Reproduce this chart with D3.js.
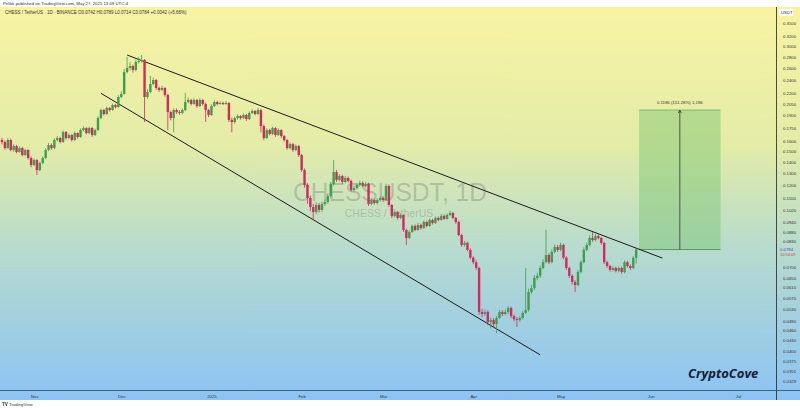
<!DOCTYPE html>
<html><head><meta charset="utf-8">
<script src="https://cdn.jsdelivr.net/npm/d3@7"></script>
<style>body{margin:0;background:#fff;} svg{display:block;font-family:"Liberation Sans",Arial,sans-serif;}</style>
</head><body><svg id="c" width="800" height="410"></svg>
<script>
const startDate = "2024-10-21";
const closes = [
.1595,.1532,.1616,.1513,.1553,.1493,.1532,.1463,.1513,.1435,.1370,
.1416,.1325,.1388,.1435,.1513,.1563,.1532,.1616,.1637,.1595,.1703,.1637,.1670,.1616,.1692,.1648,.1726,.1749,.1692,.1749,.1670,.1726,.1868,.1970,.1919,.1996,.1970,.2036,.2009,.2147,
.2190,.2532,.2600,.2635,.2566,.2705,.2723,.2741,.2147,.2219,.2339,.2402,.2279,.2249,.2279,.2175,.1944,.1868,.1970,.1944,.1932,.1970,.2077,.2105,.2050,.2105,.2022,.2105,.2050,.1970,.1906,
.2022,.2077,.2050,.2063,.2050,.2063,.1844,.1820,.1868,.1893,.1868,.1906,.1856,.1932,.1957,.1919,.1970,.1772,.1637,.1726,.1681,.1749,.1670,.1726,.1659,.1616,.1532,.1573,.1513,.1553,.1463,
.1325,.1201,.1102,.1038,.1004,.1052,.1018,.1059,.1073,.1117,.1209,.1308,.1241,.1274,.1225,.1258,.1233,.1162,.1177,.1201,.1217,.1193,.1209,.1059,.1087,.1066,.1087,.1102,
.1087,.1193,.1052,.0979,.1004,.0966,.0985,.0892,.0846,.0880,.0916,.0892,.0922,.0904,.0940,.0916,.0953,.0934,.0966,.0953,.0979,.0960,.0985,.0998,.0966,.0940,.0863,.0808,.0819,.0782,.0743,
.0721,.0694,.0519,.0512,.0519,.0486,.0492,.0479,.0499,.0519,.0512,.0519,.0533,.0505,.0495,.0492,.0499,.0516,.0526,.0592,.0608,.0650,.0659,.0694,.0721,.0756,.0721,.0772,.0797,.0782,
.0808,.0743,.0694,.0659,.0633,.0620,.0676,.0721,.0782,.0808,.0846,.0835,.0857,.0846,.0819,.0721,.0703,.0685,.0694,.0681,.0694,.0676,.0721,.0703,.0694,.0742,.0784];
const opens = [
.1616,.1595,.1532,.1616,.1513,.1553,.1493,.1532,.1463,.1513,.1435,
.1370,.1416,.1325,.1388,.1435,.1513,.1563,.1532,.1616,.1637,.1595,.1703,.1637,.1670,.1616,.1692,.1648,.1726,.1749,.1692,.1749,.1670,.1726,.1868,.1970,.1919,.1996,.1970,.2036,.2009,
.2147,.2190,.2532,.2600,.2635,.2566,.2705,.2723,.2741,.2147,.2219,.2339,.2402,.2279,.2249,.2279,.2175,.1944,.1868,.1970,.1944,.1932,.1970,.2077,.2105,.2050,.2105,.2022,.2105,.2050,.1970,
.1906,.2022,.2077,.2050,.2063,.2050,.2063,.1844,.1820,.1868,.1893,.1868,.1906,.1856,.1932,.1957,.1919,.1970,.1772,.1637,.1726,.1681,.1749,.1670,.1726,.1659,.1616,.1532,.1573,.1513,.1553,
.1463,.1325,.1201,.1102,.1038,.1004,.1052,.1018,.1059,.1073,.1117,.1209,.1308,.1241,.1274,.1225,.1258,.1233,.1162,.1177,.1201,.1217,.1193,.1209,.1059,.1087,.1066,.1087,
.1102,.1087,.1193,.1052,.0979,.1004,.0966,.0985,.0892,.0846,.0880,.0916,.0892,.0922,.0904,.0940,.0916,.0953,.0934,.0966,.0953,.0979,.0960,.0985,.0998,.0966,.0940,.0863,.0808,.0819,.0782,
.0743,.0721,.0694,.0519,.0512,.0519,.0486,.0492,.0479,.0499,.0519,.0512,.0519,.0533,.0505,.0495,.0492,.0499,.0516,.0526,.0592,.0608,.0650,.0659,.0694,.0721,.0756,.0721,.0772,.0797,
.0782,.0808,.0743,.0694,.0659,.0633,.0620,.0676,.0721,.0782,.0808,.0846,.0835,.0857,.0846,.0819,.0721,.0703,.0685,.0694,.0681,.0694,.0676,.0721,.0703,.0694,.0742];
const highs = [
.1640,.1610,.1635,.1630,.1570,.1565,.1550,.1545,.1525,.1520,.1450,
.1430,.1425,.1400,.1450,.1530,.1585,.1580,.1635,.1660,.1650,.1720,.1715,.1690,.1680,.1710,.1700,.1745,.1770,.1760,.1765,.1760,.1740,.1890,.1990,.1985,.2015,.2010,.2055,.2050,.2170,
.2230,.2580,.2800,.2700,.2660,.2750,.2800,.2833,.2760,.2260,.2470,.2440,.2420,.2300,.2310,.2290,.2190,.1960,.1990,.1990,.1970,.1990,.2205,.2140,.2120,.2130,.2120,.2130,.2120,.2070,.1985,
.2045,.2100,.2095,.2085,.2080,.2090,.2075,.1870,.1885,.1915,.1905,.1925,.1920,.1950,.1980,.1970,.1995,.1985,.1790,.1745,.1740,.1765,.1760,.1745,.1735,.1670,.1625,.1590,.1585,.1570,.1565,
.1475,.1340,.1215,.1120,.1060,.1070,.1065,.1075,.1090,.1135,.1225,.1416,.1325,.1290,.1285,.1275,.1270,.1245,.1195,.1215,.1235,.1230,.1225,.1220,.1100,.1095,.1100,.1115,
.1115,.1210,.1205,.1060,.1015,.1010,.0995,.0990,.0900,.0890,.0925,.0925,.0935,.0930,.0950,.0948,.0962,.0960,.0975,.0975,.0990,.0988,.0995,.1012,.1005,.0972,.0948,.0870,.0830,.0825,.0790,
.0750,.0730,.0700,.0530,.0528,.0525,.0500,.0498,.0505,.0526,.0525,.0527,.0540,.0538,.0510,.0502,.0505,.0522,.0694,.0605,.0620,.0662,.0672,.0705,.0735,.0892,.0765,.0785,.0810,.0808,
.0820,.0815,.0750,.0700,.0665,.0640,.0685,.0730,.0795,.0822,.0860,.0880,.0868,.0865,.0852,.0825,.0728,.0710,.0702,.0700,.0702,.0700,.0730,.0728,.0710,.0750,.0789];
const lows = [
.1570,.1515,.1525,.1500,.1495,.1480,.1485,.1450,.1455,.1420,.1350,
.1360,.1282,.1315,.1375,.1425,.1500,.1515,.1520,.1600,.1580,.1585,.1620,.1625,.1600,.1605,.1630,.1640,.1710,.1675,.1680,.1650,.1660,.1715,.1855,.1900,.1905,.1950,.1960,.1990,.2000,
.2130,.2180,.2510,.2560,.2520,.2540,.2680,.2690,.1820,.2120,.2200,.2320,.2250,.2220,.2230,.2150,.1726,.1840,.1700,.1920,.1910,.1915,.1955,.2060,.2030,.2040,.2000,.2010,.2030,.1820,.1880,
.1895,.2010,.2030,.2040,.2035,.2040,.1820,.1700,.1800,.1850,.1850,.1855,.1835,.1845,.1920,.1900,.1905,.1700,.1615,.1625,.1665,.1670,.1650,.1660,.1640,.1600,.1515,.1520,.1495,.1500,.1445,
.1310,.1180,.1060,.1010,.0953,.0990,.1000,.1005,.1045,.1060,.1105,.1195,.1225,.1230,.1210,.1215,.1220,.1150,.1150,.1165,.1190,.1180,.1185,.1045,.1050,.1055,.1055,.1075,
.1075,.1080,.1040,.0965,.0970,.0955,.0958,.0880,.0808,.0840,.0875,.0885,.0888,.0895,.0898,.0908,.0910,.0925,.0928,.0945,.0948,.0952,.0955,.0978,.0958,.0930,.0855,.0798,.0800,.0775,.0735,
.0712,.0685,.0510,.0502,.0505,.0476,.0466,.0466,.0451,.0495,.0505,.0508,.0512,.0498,.0488,.0470,.0486,.0494,.0512,.0520,.0585,.0600,.0640,.0650,.0688,.0715,.0712,.0715,.0765,.0772,
.0775,.0735,.0685,.0650,.0622,.0592,.0615,.0670,.0715,.0775,.0800,.0825,.0828,.0838,.0810,.0712,.0695,.0678,.0678,.0674,.0675,.0668,.0670,.0696,.0685,.0688,.0714];

const priceTicks = [0.35,0.32,0.30,0.28,0.26,0.24,0.22,0.205,0.19,0.175,0.16,0.15,0.14,0.13,0.12,0.11,0.102,0.094,0.088,0.083,0.070,0.065,0.061,0.057,0.053,0.049,0.046,0.043,0.040,0.0375,0.0351,0.0329];
const timeTickDates = ["2024-11-01","2024-12-01","2025-01-01","2025-02-01","2025-03-01","2025-04-01","2025-05-01","2025-06-01","2025-07-01"];
const timeTickLabels = ["Nov","Dec","2025","Feb","Mar","Apr","May","Jun","Jul"];
const upperDates = ["2024-12-03","2025-06-05"], upperPrices = [0.2833,0.0741];
const lowerDates = ["2024-11-24","2025-04-24"], lowerPrices = [0.2200,0.0391];
const targetDates = ["2025-05-28","2025-06-25"], targetPrices = [0.0784,0.1970];
const lastPrice = 0.0784;

const svg = d3.select("#c");
const W = 800, H = 410, plotR = 776, plotT = 7, plotB = 390;
const parse = d3.utcParse("%Y-%m-%d");
const t0 = parse(startDate);
const data = closes.map((c,i)=>({d:d3.utcDay.offset(t0,i), o:opens[i], h:highs[i], l:lows[i], c}));

const x = d3.scaleUtc().domain([parse("2024-11-01"), parse("2025-07-01")]).range([34, 738]);
const y = d3.scaleLog().domain([0.35, 0.0329]).range([23, 381]);

const defs = svg.append("defs");
const g = defs.append("linearGradient").attr("id","bg").attr("x1",0).attr("y1",0).attr("x2",0).attr("y2",1);
g.append("stop").attr("offset","0%").attr("stop-color","#f8f3a2");
g.append("stop").attr("offset","35%").attr("stop-color","#e3eca8");
g.append("stop").attr("offset","60%").attr("stop-color","#b9dccc");
g.append("stop").attr("offset","100%").attr("stop-color","#8cc3f4");
defs.append("clipPath").attr("id","clip").append("rect").attr("x",0).attr("y",plotT).attr("width",plotR).attr("height",plotB-plotT);

svg.append("rect").attr("width",W).attr("height",H).attr("fill","#fff");
svg.append("rect").attr("x",0).attr("y",plotT).attr("width",W).attr("height",400-plotT).attr("fill","url(#bg)");

// header
svg.append("text").attr("x",3).attr("y",5).attr("font-size",4.3).attr("fill","#333").text("Pelikk published on TradingView.com, May 27, 2025 13:09 UTC-4");
svg.append("text").attr("x",5).attr("y",14).attr("font-size",4.5).attr("fill","#333")
  .text("CHESS / TetherUS · 1D · BINANCE   O0.0742  H0.0789  L0.0714  C0.0784  +0.0042 (+5.66%)");

// watermark
svg.append("text").attr("x",390).attr("y",201).attr("text-anchor","middle").attr("font-size",25)
  .attr("textLength",194).attr("lengthAdjust","spacingAndGlyphs")
  .attr("fill","rgba(110,110,110,0.33)").text("CHESSUSDT, 1D");
svg.append("text").attr("x",389).attr("y",217).attr("text-anchor","middle").attr("font-size",10.5)
  .attr("fill","rgba(110,110,110,0.33)").text("CHESS / TetherUS");

const plot = svg.append("g").attr("clip-path","url(#clip)");

// target box
const tx0 = x(parse(targetDates[0])), tx1 = x(parse(targetDates[1]));
const ty0 = y(targetPrices[0]), ty1 = y(targetPrices[1]);
plot.append("rect").attr("x",tx0).attr("y",ty1).attr("width",tx1-tx0).attr("height",ty0-ty1)
  .attr("fill","rgba(120,196,110,0.45)");
plot.append("line").attr("x1",tx0).attr("x2",tx1).attr("y1",ty1).attr("y2",ty1).attr("stroke","#6fb36a").attr("stroke-width",0.8);
plot.append("line").attr("x1",tx0).attr("x2",tx1).attr("y1",ty0).attr("y2",ty0).attr("stroke","#3f8f48").attr("stroke-width",0.8);
const tmx = (tx0+tx1)/2;
plot.append("line").attr("x1",tmx).attr("x2",tmx).attr("y1",ty0).attr("y2",ty1+1).attr("stroke","#2d3b2d").attr("stroke-width",0.8);
plot.append("path").attr("d",`M${tmx-1.5},${ty1+3}L${tmx},${ty1}L${tmx+1.5},${ty1+3}`).attr("fill","none").attr("stroke","#2d3b2d").attr("stroke-width",0.8);
const diff = targetPrices[1]-targetPrices[0];
svg.append("text").attr("x",tmx).attr("y",ty1-6).attr("text-anchor","middle").attr("font-size",4.3).attr("fill","#333")
  .text(`${diff.toFixed(4)} (${(diff/targetPrices[0]*100).toFixed(2)}%) ${d3.format(",")(Math.round(diff*10000))}`);

// channel lines
const line = d3.line().x(p=>x(parse(p[0]))).y(p=>y(p[1]));
plot.append("path").attr("d",line(upperDates.map((d,i)=>[d,upperPrices[i]]))).attr("stroke","#1b1b1b").attr("stroke-width",1).attr("fill","none");
plot.append("path").attr("d",line(lowerDates.map((d,i)=>[d,lowerPrices[i]]))).attr("stroke","#1b1b1b").attr("stroke-width",1).attr("fill","none");

// candles
const up = "#3f9e4d", dn = "#d22a5e";
const cg = plot.append("g").selectAll("g").data(data).join("g");
cg.append("line").attr("x1",d=>x(d.d)).attr("x2",d=>x(d.d)).attr("y1",d=>y(d.h)).attr("y2",d=>y(d.l))
  .attr("stroke",d=>d.c>=d.o?up:dn).attr("stroke-width",0.8);
cg.append("rect").attr("x",d=>x(d.d)-1.2).attr("width",2.4)
  .attr("y",d=>y(Math.max(d.o,d.c))).attr("height",d=>Math.max(0.8, Math.abs(y(d.o)-y(d.c))))
  .attr("fill",d=>d.c>=d.o?up:dn);

// right axis
svg.append("line").attr("x1",plotR+0.5).attr("x2",plotR+0.5).attr("y1",plotT).attr("y2",401).attr("stroke","#222").attr("stroke-width",0.8);
const ya = svg.append("g").attr("transform",`translate(${plotR+4},0)`)
  .call(d3.axisRight(y).tickValues(priceTicks).tickSize(0).tickFormat(d3.format(".4f")));
ya.select(".domain").remove();
ya.selectAll("text").attr("font-size",4.3).attr("fill","#333").attr("font-family","Liberation Sans, Arial").attr("dx",0);
svg.append("rect").attr("x",plotR+3).attr("y",9).attr("width",14).attr("height",7).attr("fill","#fff");
svg.append("text").attr("x",plotR+5).attr("y",14.2).attr("font-size",4.3).attr("fill","#333").text("USDT");
svg.append("text").attr("x",plotR+4).attr("y",y(lastPrice)+1.5).attr("font-size",4.3).attr("fill","#5b3fc0").text(d3.format(".4f")(lastPrice));
svg.append("text").attr("x",plotR+4).attr("y",y(lastPrice)+6).attr("font-size",4).attr("fill","#d0405a").text("10:54:09");

// bottom axis
svg.append("line").attr("x1",0).attr("x2",W).attr("y1",plotB+0.5).attr("y2",plotB+0.5).attr("stroke","#2a4a6a").attr("stroke-width",0.8);
const xa = svg.append("g").attr("transform",`translate(0,${plotB+2})`)
  .call(d3.axisBottom(x).tickValues(timeTickDates.map(parse)).tickSize(0).tickFormat((d,i)=>timeTickLabels[i]));
xa.select(".domain").remove();
xa.selectAll("text").attr("font-size",4.3).attr("fill","#333").attr("font-family","Liberation Sans, Arial");
svg.append("rect").attr("x",0).attr("y",400).attr("width",W).attr("height",10).attr("fill","#fff");
svg.append("text").attr("x",2).attr("y",406).attr("font-size",4.5).attr("font-weight","bold").attr("fill","#222").text("TV");
svg.append("text").attr("x",9).attr("y",406).attr("font-size",4.3).attr("fill","#333").text("TradingView");

// signature
svg.append("text").attr("x",688).attr("y",378).attr("font-size",13).attr("font-weight","bold").attr("font-style","italic")
  .attr("font-family","Open Sans, Liberation Sans, sans-serif").attr("fill","#14203a").text("CryptoCove");
</script></body></html>
